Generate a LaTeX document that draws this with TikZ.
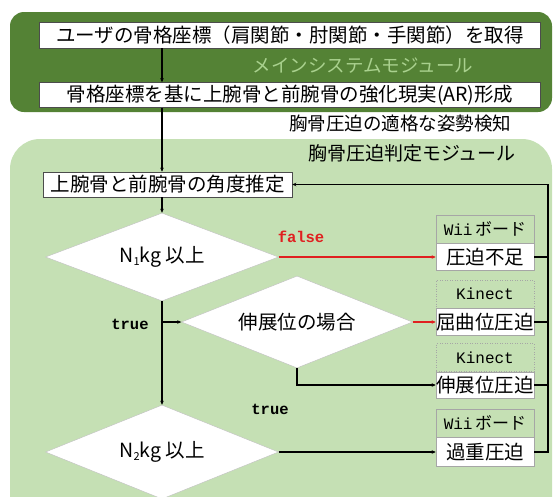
\documentclass[tikz,border=0pt]{standalone}
\usepackage{fontspec}
\setmainfont{Noto Sans CJK JP}
\newfontfamily\monof{Liberation Mono}
\usetikzlibrary{shapes.geometric,arrows.meta}
\definecolor{dkgreen}{HTML}{548235}
\definecolor{ltgreen}{HTML}{C5E0B4}
\definecolor{mdgreen}{HTML}{A9D18E}
\definecolor{flred}{HTML}{E02020}
\tikzset{
  jp/.style={font=\fontsize{19.5}{21}\selectfont},
  wbox/.style={draw=black!70, line width=0.5pt, fill=white, inner sep=0pt, jp},
  dia/.style={diamond, aspect=2.6, fill=white, draw=black!25, line width=0.4pt, inner sep=0pt, jp},
  hdr/.style={draw=black!35, line width=0.5pt, inner sep=0pt, minimum width=98pt, minimum height=28pt},
  hdrdot/.style={hdr, dotted},
  sub/.style={fill=white, draw=black!35, line width=0.5pt, inner sep=0pt, minimum width=98pt, jp},
  conn/.style={line width=1.5pt, black},
  arr/.style={conn, -{Stealth[length=4pt,width=3.5pt]}},
  rarr/.style={line width=1.5pt, flred, -{Stealth[length=4pt,width=3.5pt]}},
  lbl/.style={font=\monof\bfseries\fontsize{15.5}{16}\selectfont, inner sep=0pt},
}
\begin{document}
\begin{tikzpicture}[x=1pt,y=-1pt]
\useasboundingbox (0,0) rectangle (553,496);
\begin{scope}
\clip (0,0) rectangle (553,496);
\fill[ltgreen, rounded corners=30pt] (10,139) rectangle (552,530);
\end{scope}
\fill[dkgreen, rounded corners=14pt] (10,12) rectangle (552,112);
% top module
\node[wbox, minimum width=501pt, minimum height=26pt] (b1) at (290,35) {ユーザの骨格座標（肩関節・肘関節・手関節）を取得};
\node[wbox, minimum width=501pt, minimum height=25pt] (b2) at (290,95) {骨格座標を基に上腕骨と前腕骨の強化現実(AR)形成};
\node[text=mdgreen, font=\fontsize{18.5}{20}\selectfont] (mainlbl) at (363,66) {メインシステムモジュール};
\node[font=\fontsize{18.5}{20}\selectfont] (poselbl) at (400,124) {胸骨圧迫の適格な姿勢検知};
\node[font=\fontsize{19}{20}\selectfont] (modlbl) at (412,153) {胸骨圧迫判定モジュール};
% judge module
\node[wbox, minimum width=249pt, minimum height=25pt] (b3) at (167.5,184.5) {上腕骨と前腕骨の角度推定};
\node[dia, minimum width=233pt, minimum height=88pt] (d1) at (162,257) {N{\fontsize{11}{11}\selectfont\raisebox{-3pt}{1}}kg 以上};
\node[dia, minimum width=231pt, minimum height=92pt] (d2) at (297,322) {伸展位の場合};
\node[dia, minimum width=233pt, minimum height=94pt] (d3) at (162,452) {N{\fontsize{11}{11}\selectfont\raisebox{-3pt}{2}}kg 以上};
% device boxes
\node[hdr] (h1) at (485,229) {\monof\fontsize{16}{17}\selectfont Wii\,{\fontsize{17}{18}\selectfont\normalfont ボード}};
\node[sub, minimum height=27pt, anchor=north] (o1) at (h1.south) {圧迫不足};
\node[hdrdot] (h2) at (485,294) {\monof\fontsize{16}{17}\selectfont Kinect};
\node[sub, minimum height=27pt, anchor=north] (o2) at (h2.south) {屈曲位圧迫};
\node[hdrdot] (h3) at (485,357.5) {\monof\fontsize{16}{17}\selectfont Kinect};
\node[sub, minimum height=26pt, anchor=north] (o3) at (h3.south) {伸展位圧迫};
\node[hdr] (h4) at (485,423) {\monof\fontsize{16}{17}\selectfont Wii\,{\fontsize{17}{18}\selectfont\normalfont ボード}};
\node[sub, minimum height=29pt, anchor=north] (o4) at (h4.south) {過重圧迫};
% labels
\node[lbl, text=flred] (fl) at (301,237) {false};
\node[lbl] (t1) at (130,324) {true};
\node[lbl] (t2) at (270,409) {true};
% connectors
\draw[arr] (b1.south -| d1.north) -- (b2.north -| d1.north);
\draw[arr] (b2.south -| d1.north) -- (b3.north -| d1.north);
\draw[arr] (b3.south -| d1.north) -- (d1.north);
\draw[rarr] (d1.east) -- (d1.east -| o1.west);
\draw[arr] (d1.south) -- (d3.north);
\draw[arr] (d1.south |- d2.west) -- (d2.west);
\draw[rarr] (d2.east) -- (d2.east -| o2.west);
\draw[arr] (d2.south) -- (d2.south |- o3.west) -- (o3.west);
\draw[arr] (d3.east) -- (d3.east -| o4.west);
\coordinate (rx) at (548,0);
\draw[conn] (o1.east) -- (o1.east -| rx);
\draw[conn] (o2.east) -- (o2.east -| rx);
\draw[conn] (o3.east) -- (o3.east -| rx);
\draw[arr] (o4.east) -- (o4.east -| rx) -- (b3.east -| rx) -- (b3.east);
\end{tikzpicture}
\end{document}
